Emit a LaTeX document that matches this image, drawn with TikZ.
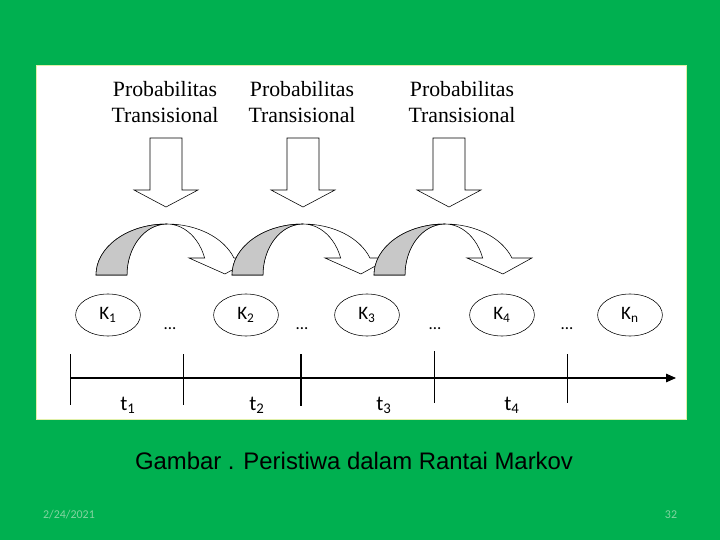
\documentclass[tikz,border=0pt]{standalone}
\usepackage{fontspec}
\setmainfont{Liberation Serif}
\newfontfamily\calibri{Carlito}
\newfontfamily\arial{Liberation Sans}
\usepackage{tikz}
\usetikzlibrary{shapes.geometric}
\usetikzlibrary{arrows.meta}
\definecolor{slidegreen}{RGB}{0,176,80}
\definecolor{datetext}{RGB}{130,212,160}
\definecolor{boxedge}{RGB}{225,240,170}
\definecolor{backfill}{RGB}{200,200,200}
\tikzset{
	kstate/.style={draw,ellipse,minimum width=1.62cm,minimum height=1.05cm,inner sep=0pt,font=\calibri\fontsize{13.5}{15}\selectfont},
	problabel/.style={align=center,inner sep=0pt,font=\fontsize{15.5}{18}\selectfont},
	dotlabel/.style={anchor=base,inner sep=0pt,font=\calibri\fontsize{12}{14}\selectfont},
	tlabel/.style={anchor=base,inner sep=0pt,font=\calibri\fontsize{15}{18}\selectfont},
	footer/.style={inner sep=0pt,text=datetext,font=\calibri\fontsize{8.5}{10}\selectfont}
}
\newcommand{\bentarrow}[1]{%
	\filldraw[fill=white] (#1,265) arc[start angle=180,end angle=19.5,x radius=71,y radius=51] -- ++(20,0) -- ++(-29,-16) -- ++(-36,16) -- ++(15.7,0) arc[start angle=19.5,end angle=180,x radius=40,y radius=51] -- cycle;
	\filldraw[fill=backfill] (#1,265) arc[start angle=180,end angle=90,x radius=71,y radius=51] arc[start angle=90,end angle=180,x radius=40,y radius=51] -- cycle;}

\begin{document}
\begin{tikzpicture}[x=0.025cm,y=0.025cm]
	\fill[slidegreen] (0,0) rectangle (720,540);
	\filldraw[fill=white,draw=boxedge,line width=0.6pt] (36,121) rectangle (686,475);
	\node[problabel] (p1) at (165,438) {Probabilitas\\Transisional};
	\node[problabel] (p2) at (302,438) {Probabilitas\\Transisional};
	\node[problabel] (p3) at (462,438) {Probabilitas\\Transisional};
	\filldraw[fill=white] (150,402) -- ++(32,0) -- ++(0,-52) -- ++(16,0) -- ++(-32,-17) -- ++(-32,17) -- ++(16,0) -- cycle;
	\filldraw[fill=white] (287,402) -- ++(32,0) -- ++(0,-52) -- ++(16,0) -- ++(-32,-17) -- ++(-32,17) -- ++(16,0) -- cycle;
	\filldraw[fill=white] (433,402) -- ++(32,0) -- ++(0,-52) -- ++(16,0) -- ++(-32,-17) -- ++(-32,17) -- ++(16,0) -- cycle;
	\bentarrow{96}
	\bentarrow{232}
	\bentarrow{374}
	\node[kstate] (k1) at (108,225) {K\textsubscript{1}};
	\node[kstate] (k2) at (246,225) {K\textsubscript{2}};
	\node[kstate] (k3) at (367,225) {K\textsubscript{3}};
	\node[kstate] (k4) at (502,225) {K\textsubscript{4}};
	\node[kstate] (kn) at (630,225) {K\textsubscript{n}};
	\node[dotlabel] (d1) at (170,211) {...};
	\node[dotlabel] (d2) at (302,211) {...};
	\node[dotlabel] (d3) at (435,211) {...};
	\node[dotlabel] (d4) at (567,211) {...};
	\coordinate (tstart) at (70,162);
	\coordinate (tend) at (676,162);
	\draw[-{Triangle[length=7pt,width=6pt]},line width=0.8pt] (tstart) -- (tend);
	\draw[line width=0.6pt] (70,186) -- (70,135);
	\draw[line width=0.6pt] (183,186) -- (183,135);
	\draw[line width=1.2pt] (301,186) -- (301,134);
	\draw[line width=0.6pt] (434,189) -- (434,137);
	\draw[line width=0.6pt] (567,186) -- (567,137);
	\node[tlabel] (t1) at (128,130) {t\textsubscript{1}};
	\node[tlabel] (t2) at (257,130) {t\textsubscript{2}};
	\node[tlabel] (t3) at (384,130) {t\textsubscript{3}};
	\node[tlabel] (t4) at (512,130) {t\textsubscript{4}};
	\node[font=\arial\fontsize{17}{20}\selectfont] (caption) at (354,79) {Gambar . Peristiwa dalam Rantai Markov};
	\node[footer] (date) at (69,25) {2/24/2021};
	\node[footer] (page) at (671,25) {32};
\end{tikzpicture}
\end{document}
